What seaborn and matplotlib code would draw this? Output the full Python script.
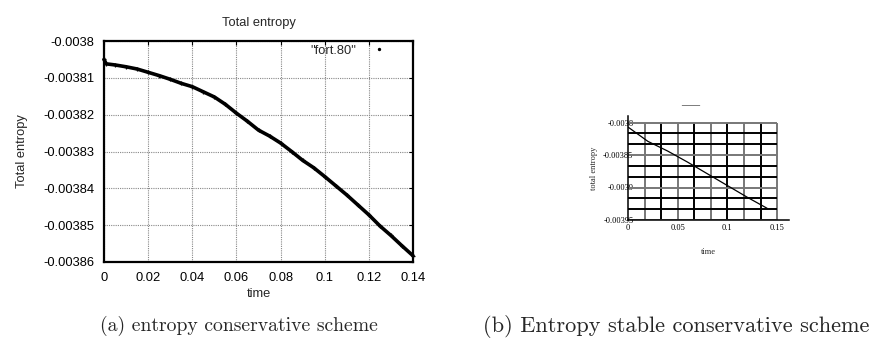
import numpy as np
import pandas as pd
import matplotlib
matplotlib.use("Agg")
import matplotlib.pyplot as plt
import seaborn as sns

# ---- data: left panel (entropy conservative scheme, "fort.80") ----
time_a = [0.0, 0.001, 0.005, 0.010, 0.015, 0.020, 0.025, 0.030, 0.035, 0.040,
          0.045, 0.050, 0.055, 0.060, 0.065, 0.070, 0.075, 0.080, 0.085,
          0.090, 0.095, 0.100, 0.105, 0.110, 0.115, 0.120, 0.125, 0.130,
          0.135, 0.140]
entropy_a = [-0.0038050, -0.0038062, -0.0038065, -0.0038070, -0.0038076,
             -0.0038085, -0.0038094, -0.0038104, -0.0038115, -0.0038124,
             -0.0038138, -0.0038152, -0.0038172, -0.0038196, -0.0038218,
             -0.0038242, -0.0038258, -0.0038277, -0.0038300, -0.0038324,
             -0.0038344, -0.0038368, -0.0038393, -0.0038418, -0.0038445,
             -0.0038472, -0.0038502, -0.0038528, -0.0038556, -0.0038583]

# ---- data: right panel (entropy stable conservative scheme) ----
time_b = [0.0, 0.02, 0.04, 0.06, 0.08, 0.10, 0.12, 0.14]
entropy_b = [-0.003807, -0.003829, -0.003844, -0.003861, -0.003879,
             -0.003897, -0.003915, -0.003932]

xticks_a = [0, 0.02, 0.04, 0.06, 0.08, 0.1, 0.12, 0.14]
xticklabels_a = ["0", "0.02", "0.04", "0.06", "0.08", "0.1", "0.12", "0.14"]
yticks_a = [-0.0038, -0.00381, -0.00382, -0.00383, -0.00384, -0.00385, -0.00386]
yticklabels_a = ["-0.0038", "-0.00381", "-0.00382", "-0.00383", "-0.00384",
                 "-0.00385", "-0.00386"]

xticks_b = [0, 0.05, 0.1, 0.15]
xticklabels_b = ["0", "0.05", "0.1", "0.15"]
yticks_b = [-0.0038, -0.00385, -0.0039, -0.00395]
yticklabels_b = ["-0.0038", "-0.00385", "-0.0039", "-0.00395"]

sns.set_style("white")
plt.rcParams["font.family"] = ["Liberation Sans", "DejaVu Sans"]

W, H = 874, 338
fig = plt.figure(figsize=(W / 100, H / 100), dpi=100)

# ================= left panel =================
FS = 9.3
ax1 = fig.add_axes([104 / W, 1 - 262 / H, (413 - 104) / W, (262 - 41) / H])
df_a = pd.DataFrame({"time": time_a, "entropy": entropy_a})
sns.lineplot(data=df_a, x="time", y="entropy", ax=ax1, color="black",
             linewidth=2.6, marker="+", markersize=3.5, markeredgewidth=0.9,
             markeredgecolor="black", label='"fort.80"', clip_on=False)
ax1.set_xlim(0, 0.14)
ax1.set_ylim(-0.00386, -0.0038)
ax1.set_xticks(xticks_a)
ax1.set_xticklabels(xticklabels_a)
ax1.set_yticks(yticks_a)
ax1.set_yticklabels(yticklabels_a)
ax1.tick_params(direction="in", length=3, width=0.8, labelsize=FS,
                top=True, right=True, pad=7, colors="black")
ax1.grid(True, linestyle=(0, (1, 1)), color="#888888", linewidth=0.8)
for s in ax1.spines.values():
    s.set_visible(True)
    s.set_color("black")
    s.set_linewidth(1.6)
ax1.set_title("Total entropy", fontsize=FS, pad=11)
ax1.set_xlabel("time", fontsize=FS, labelpad=3)
ax1.set_ylabel("Total entropy", fontsize=FS, labelpad=11)
leg = ax1.legend(loc="center right", frameon=False, fontsize=FS,
                 handlelength=2.0, handletextpad=0.8, borderaxespad=0,
                 borderpad=0, markerfirst=False,
                 bbox_to_anchor=(1 - 21 / 309, 1 - 10 / 221))
for h in leg.legend_handles:
    h.set_linestyle("none")
    h.set_marker(".")
    h.set_markersize(3)

# ================= right panel =================
serif = ["Liberation Serif", "DejaVu Serif"]
FS2 = 6.0
ax2 = fig.add_axes([628 / W, 1 - 220 / H, (789 - 628) / W, (220 - 116) / H])
df_b = pd.DataFrame({"time": time_b, "entropy": entropy_b})
sns.lineplot(data=df_b, x="time", y="entropy", ax=ax2, color="black",
             linewidth=0.9)
ax2.set_xlim(0, 0.162)
ax2.set_ylim(-0.00395, -0.00379)
# grid confined to [0, 0.15] x [-0.00395, -0.0038]
gx = np.linspace(0, 0.15, 10)
gy = np.linspace(-0.00395, -0.0038, 10)
for i, x in enumerate(gx[1:], start=1):
    ax2.vlines(x, -0.00395, -0.0038, color=("#777777" if i % 2 else "black"),
               linewidth=1.4, zorder=1)
for i, y in enumerate(gy):
    ax2.hlines(y, 0, 0.15, color=("#777777" if i % 3 == 0 else "black"),
               linewidth=1.4, zorder=1)
ax2.set_xticks(xticks_b)
ax2.set_xticklabels(xticklabels_b, family=serif)
ax2.set_yticks(yticks_b)
ax2.set_yticklabels(yticklabels_b, family=serif)
ax2.tick_params(length=0, labelsize=FS2, colors="black")
ax2.tick_params(axis="y", pad=-4)
ax2.tick_params(axis="x", pad=3)
for k in ["top", "right"]:
    ax2.spines[k].set_visible(False)
for k in ["left", "bottom"]:
    ax2.spines[k].set_color("black")
    ax2.spines[k].set_linewidth(1.1)
ax2.set_xlabel("time", family=serif, fontsize=FS2, labelpad=11.5)
ax2.set_ylabel("total entropy", family=serif, fontsize=FS2, labelpad=4)
ax2.text((690 - 628) / 161, 1 + (116 - 106) / 104, "\u2014", family=serif,
         fontsize=13, color="#555555", ha="center", va="center",
         transform=ax2.transAxes)

# ================= captions =================
fig.text(100 / W, 1 - 326 / H, "(a) entropy conservative scheme",
         family="cmr10", fontsize=14.2, ha="left", va="center")
fig.text(483 / W, 1 - 326 / H, "(b) Entropy stable conservative scheme",
         family="cmr10", fontsize=16.1, ha="left", va="center")

fig.savefig("out.png", dpi=100)
